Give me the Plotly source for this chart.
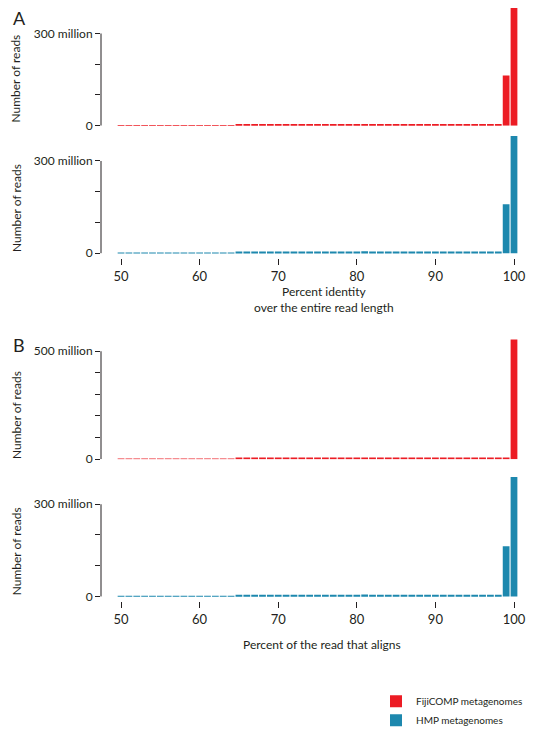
import plotly.graph_objects as go

# ---------------- data ----------------
bins = [50, 51, 52, 53, 54, 55, 56, 57, 58, 59,
        60, 61, 62, 63, 64, 65, 66, 67, 68, 69,
        70, 71, 72, 73, 74, 75, 76, 77, 78, 79,
        80, 81, 82, 83, 84, 85, 86, 87, 88, 89,
        90, 91, 92, 93, 94, 95, 96, 97, 98, 99, 100]

# reads per bin, in millions
identity_fiji = [2, 2, 2, 2, 2, 2, 2, 2, 2, 2,
                 2, 2, 2, 2, 2, 3, 3, 3, 3, 3,
                 3, 3, 3, 3, 3, 3, 3, 3, 3, 3,
                 4, 5, 4, 4, 4, 4, 4, 4, 4, 5,
                 4, 4, 4, 4, 4, 5, 4, 4, 4, 163, 389]
identity_hmp = [2, 2, 2, 2, 2, 2, 2, 2, 2, 2,
                2, 2, 2, 2, 2, 3, 3, 3, 3, 3,
                3, 3, 3, 3, 3, 3, 3, 3, 3, 3,
                4, 6, 4, 4, 4, 4, 4, 4, 4, 5,
                4, 4, 4, 4, 4, 5, 4, 4, 4, 159, 381]
align_fiji = [2, 2, 2, 2, 2, 2, 2, 2, 2, 2,
              2, 2, 2, 2, 2, 3, 3, 3, 3, 3,
              3, 3, 3, 3, 3, 3, 3, 3, 3, 3,
              4, 5, 4, 4, 4, 4, 4, 4, 4, 4,
              4, 4, 4, 4, 4, 4, 4, 4, 4, 4, 555]
align_hmp = [2, 2, 2, 2, 2, 2, 2, 2, 2, 2,
             2, 2, 2, 2, 2, 3, 3, 3, 3, 3,
             3, 3, 3, 3, 3, 3, 3, 3, 3, 3,
             4, 6, 4, 4, 4, 4, 4, 4, 4, 5,
             4, 4, 4, 4, 4, 5, 4, 4, 4, 163, 389]

series_names = ["FijiCOMP metagenomes", "HMP metagenomes"]
x_ticks = [50, 60, 70, 80, 90, 100]

RED = "#EC1C24"
BLUE = "#1D88AE"
INK = "#231F20"
FONT = "Lato"

# ---------------- layout helpers ----------------
# the page body has an 8px margin, so the figure starts 8px in from the corner
OFF = 8
W, H = 535 - OFF, 743 - 2 * OFF


def px(x):
    return (x - OFF) / W


def py(y):
    return 1 - (y - OFF) / H


def ydom(top, bottom):
    return [max(0.0, py(bottom)), min(1.0, py(top))]


s300 = 300e6 / 94.0   # reads per pixel (300 million scale)
s500 = 500e6 / 110.0  # reads per pixel (500 million scale)

x_dom = [px(101), px(525)]
x_rng = [47.45, 101.4]

fig = go.Figure()

panels = [
    (identity_fiji, RED, series_names[0], True),
    (identity_hmp, BLUE, series_names[1], True),
    (align_fiji, RED, series_names[0], False),
    (align_hmp, BLUE, series_names[1], False),
]

for i, (vals, col, name, sl) in enumerate(panels):
    sfx = "" if i == 0 else str(i + 1)
    fig.add_trace(go.Bar(
        x=bins, y=[v * 1e6 for v in vals], name=name, marker_color=col,
        marker_line_width=0, showlegend=sl, legendrank=1 if col == RED else 2,
        xaxis="x" + sfx, yaxis="y" + sfx,
    ))

axis_common_x = dict(showgrid=False, zeroline=False, showline=False, domain=x_dom,
                     range=x_rng, fixedrange=True)
axis_common_y = dict(showgrid=False, zeroline=False, showline=False, ticks="outside",
                     ticklen=5, tickwidth=1, tickcolor=INK,
                     tickfont=dict(family=FONT, size=12, color=INK))

ticks300 = dict(tickvals=[0, 100e6, 200e6, 300e6], ticktext=["0", "", "", "300 million"])
ticks500 = dict(tickvals=[0, 100e6, 200e6, 300e6, 400e6, 500e6],
                ticktext=["0", "", "", "", "", "500 million"])

xt_hidden = dict(showticklabels=False, ticks="")
xt_shown = dict(ticks="outside", ticklen=6, tickwidth=1, tickcolor=INK,
                tickvals=x_ticks, tickfont=dict(family=FONT, size=13, color=INK))

fig.update_layout(
    width=W, height=H, margin=dict(l=0, r=0, t=0, b=0),
    paper_bgcolor="white", plot_bgcolor="white", bargap=0.14,
    font=dict(family=FONT, color=INK),
    xaxis=dict(**axis_common_x, **xt_hidden, anchor="y"),
    yaxis=dict(**axis_common_y, **ticks300, domain=ydom(8, 128),
               range=[0, 120 * s300], anchor="x"),
    xaxis2=dict(**axis_common_x, **xt_shown, anchor="y2"),
    yaxis2=dict(**axis_common_y, **ticks300, domain=ydom(134, 263),
                range=[-5 * s300, 124 * s300], anchor="x2"),
    xaxis3=dict(**axis_common_x, **xt_hidden, anchor="y3"),
    yaxis3=dict(**axis_common_y, **ticks500, domain=ydom(344, 468),
                range=[0, 124 * s500], anchor="x3"),
    xaxis4=dict(**axis_common_x, **xt_shown, anchor="y4"),
    yaxis4=dict(**axis_common_y, **ticks300, domain=ydom(484, 613),
                range=[-5 * s300, 124 * s300], anchor="x4"),
    legend=dict(x=px(376), y=py(700), xanchor="left", yanchor="top",
                font=dict(family=FONT, size=10, color=INK), tracegroupgap=0,
                itemsizing="constant", bgcolor="rgba(0,0,0,0)"),
)

# range-frame y-axis lines (0 .. top labelled tick)
for sfx, top in [("", 300e6), ("2", 300e6), ("3", 500e6), ("4", 300e6)]:
    fig.add_shape(type="line", xref=("x" + sfx) + " domain", yref="y" + sfx,
                  x0=0, x1=0, y0=0, y1=top, line=dict(color=INK, width=1))

ann = []
ann.append(dict(text="A", x=px(11), y=py(18), xref="paper", yref="paper",
                xanchor="left", yanchor="middle", showarrow=False,
                font=dict(family=FONT, size=18, color=INK)))
ann.append(dict(text="B", x=px(11), y=py(352), xref="paper", yref="paper",
                xanchor="left", yanchor="middle", showarrow=False,
                font=dict(family=FONT, size=18, color=INK)))
for yc in [80, 212, 423, 562]:
    ann.append(dict(text="Number of reads", x=px(16), y=py(yc), xref="paper", yref="paper",
                    textangle=-90, showarrow=False, xanchor="center", yanchor="middle",
                    font=dict(family=FONT, size=12, color=INK)))
ann.append(dict(text="Percent identity<br>over the entire read length", x=px(324), y=py(305),
                xref="paper", yref="paper", showarrow=False, xanchor="center", yanchor="middle",
                font=dict(family=FONT, size=12, color=INK)))
ann.append(dict(text="Percent of the read that aligns", x=px(322), y=py(657),
                xref="paper", yref="paper", showarrow=False, xanchor="center", yanchor="middle",
                font=dict(family=FONT, size=12, color=INK)))
fig.update_layout(annotations=ann)

fig.write_html("out.html")
